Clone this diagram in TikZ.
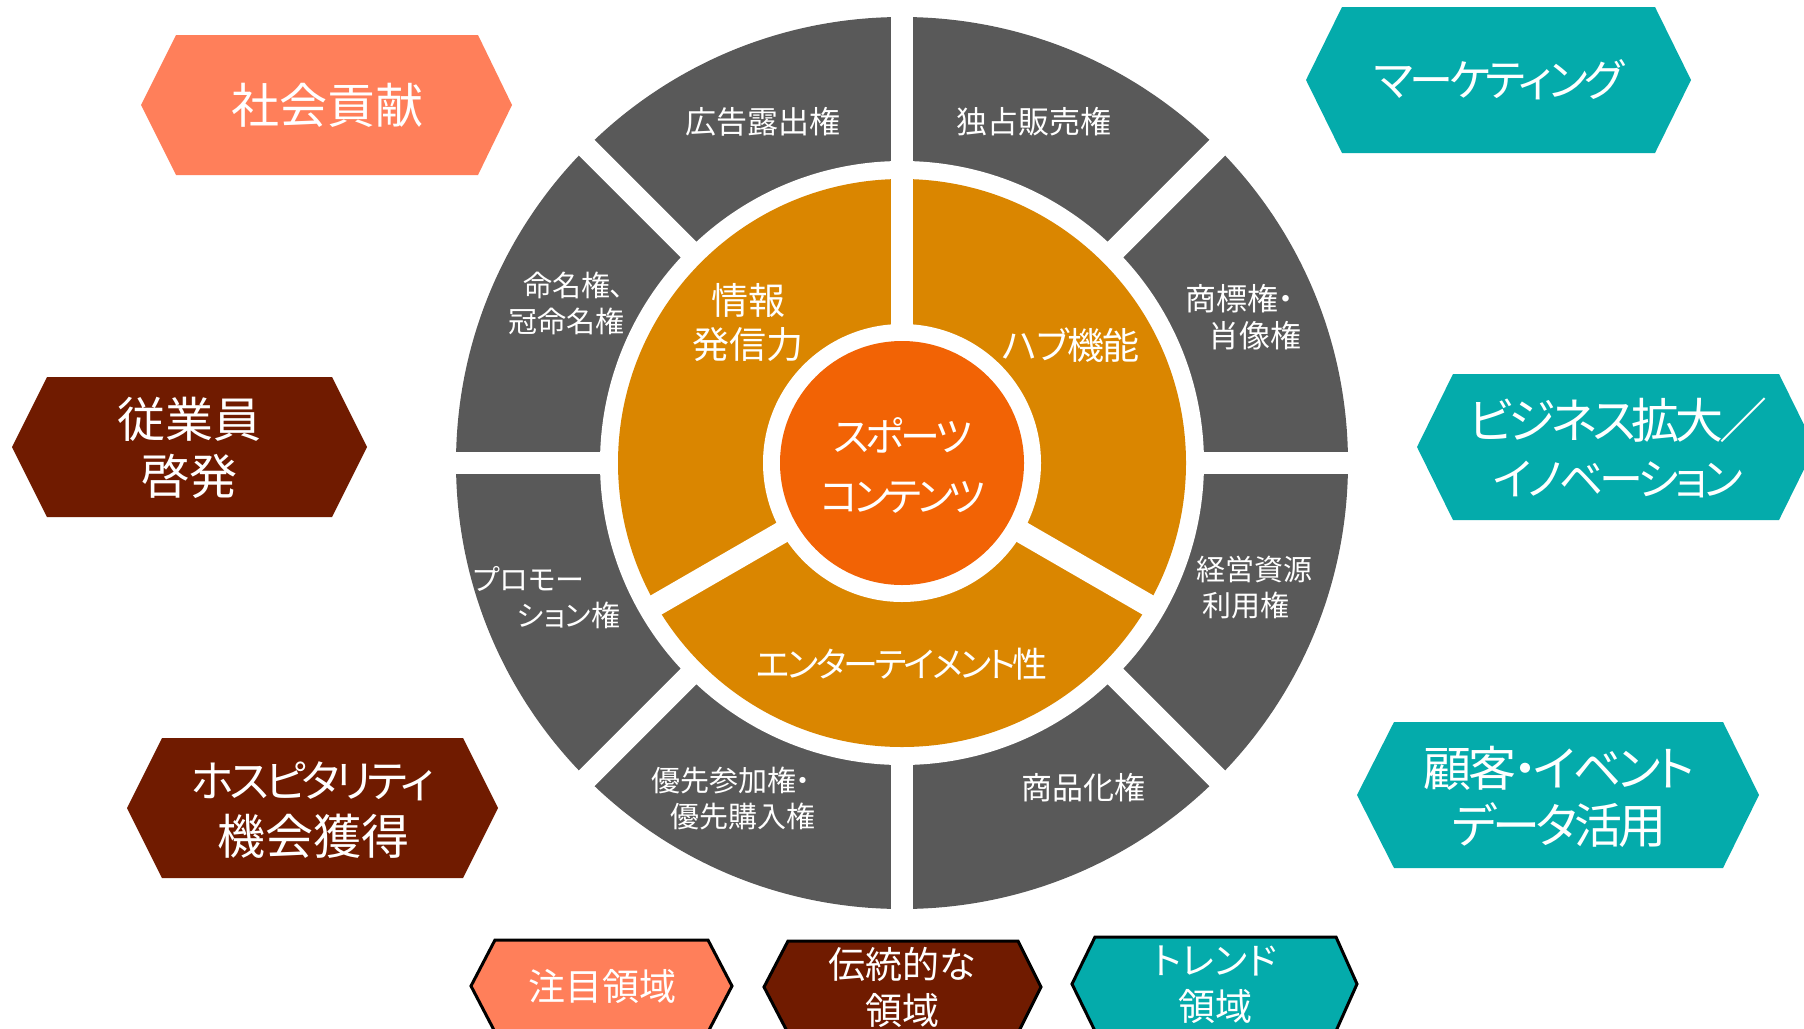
\documentclass[tikz,border=0pt]{standalone}
\usepackage{fontspec}
\setmainfont{Noto Sans CJK JP}[RawFeature={+palt}]
\newcommand\trk[2]{{\addfontfeature{LetterSpace=#1}#2}}
\newcommand\kn[4]{{\fontsize{#1}{#2}\selectfont\addfontfeature{LetterSpace=#3}#4}}
\definecolor{ringgray}{HTML}{595959}
\definecolor{ringorange}{HTML}{DA8600}
\definecolor{coreorange}{HTML}{F26305}
\definecolor{coral}{HTML}{FF7F5A}
\definecolor{darkred}{HTML}{701B00}
\definecolor{teal}{HTML}{04ABAB}
\begin{document}
\begin{tikzpicture}[x=1pt,y=-1pt,
  lbl/.style={text=white, align=center, inner sep=0pt},
  biglbl/.style={lbl, font=\fontsize{48}{57}\selectfont},
  ringlbl/.style={lbl, font=\fontsize{37}{44}\selectfont},
  graylbl/.style={lbl, font=\fontsize{31}{37}\selectfont},
  smallgray/.style={lbl, font=\fontsize{29}{36}\selectfont},
  corelbl/.style={lbl, font=\fontsize{40}{60}\selectfont},
  keylbl/.style={lbl, font=\fontsize{37}{46}\selectfont},
  keybox/.style={draw=black, line width=3pt},
  gap/.style={white, line width=22pt}]
\useasboundingbox (0,0) rectangle (1804,1028);
\clip (0,0) rectangle (1804,1028);
\fill[white] (0,0) rectangle (1804,1028);

% wheel
\coordinate (c) at (902,463);
\fill[ringgray] (c) circle[radius=446pt];
\fill[white] (c) circle[radius=302pt];
\fill[ringorange] (c) circle[radius=284pt];
\fill[white] (c) circle[radius=139pt];
\foreach \a in {0,45,...,315}
  \draw[gap, shift={(c)}] (\a:290pt) -- (\a:470pt);
\foreach \a in {90,210,330}
  \draw[gap, shift={(c)}] (\a:125pt) -- (\a:295pt);
\fill[coreorange] (c) circle[radius=122pt];

% core text
\node[corelbl] (core) at (903,465) {\trk{-9}{スポーツ}\\\trk{-11}{コンテンツ}};

% orange ring texts
\node[ringlbl] (info) at (748,323) {情報\\発信力};
\node[ringlbl] (hub) at (1071,345) {\trk{-4}{ハブ機能}};
\node[ringlbl] (ent) at (902,664) {\kn{35}{44}{-8}{エンターテイメント性}};

% gray ring texts
\node[graylbl] (ad) at (763,122) {広告露出権};
\node[graylbl] (excl) at (1034,122) {独占販売権};
\node[smallgray, anchor=west, align=left] (name) at (508,303) {\hspace*{15pt}命名権、\\冠命名権};
\node[graylbl, anchor=west, align=left] (tm) at (1185,317) {商標権・\\\hspace*{23pt}肖像権};
\node[smallgray, anchor=west, align=left] (res) at (1196,588) {経営資源\\\hspace*{6pt}利用権};
\node[graylbl] (merch) at (1083,788) {商品化権};
\node[smallgray, anchor=west, align=left] (prio) at (651,798) {優先参加権・\\\hspace*{19pt}優先購入権};
\node[smallgray, anchor=west, align=left] (promo) at (473,598) {プロモー\\\hspace*{44pt}ション権};

% left hexagons
\fill[coral] (141,105) -- (176,35) -- (478,35) -- (512,105) -- (478,175) -- (176,175) -- cycle;
\node[biglbl] (social) at (327,105) {社会貢献};
\fill[darkred] (12,447) -- (47,377) -- (332,377) -- (367,447) -- (332,517) -- (47,517) -- cycle;
\node[biglbl] (staff) at (189,448) {従業員\\啓発};
\fill[darkred] (127,808) -- (162,738) -- (463,738) -- (498,808) -- (463,878) -- (162,878) -- cycle;
\node[biglbl] (hosp) at (313,810) {\kn{44}{57}{-10}{ホスピタリティ}\\機会獲得};

% right hexagons
\fill[teal] (1306,80) -- (1342,7) -- (1655,7) -- (1691,80) -- (1655,153) -- (1342,153) -- cycle;
\node[biglbl] (mkt) at (1499,80) {\kn{44}{57}{-9}{マーケティング}};
\fill[teal] (1417,447) -- (1453,374) -- (1779,374) -- (1815,447) -- (1779,520) -- (1453,520) -- cycle;
\node[biglbl] (biz) at (1618,448) {\trk{-9}{ビジネス拡大／}\\\kn{44}{57}{-9}{イノベーション}};
\fill[teal] (1357,795) -- (1394,722) -- (1723,722) -- (1759,795) -- (1723,868) -- (1394,868) -- cycle;
\node[biglbl] (data) at (1559,797) {\trk{-7}{顧客・イベント}\\\trk{-8}{データ活用}};

% legend
\filldraw[keybox, fill=coral] (471,986) -- (495,940) -- (708,940) -- (732,986) -- (708,1032) -- (495,1032) -- cycle;
\node[keylbl] (k1) at (602,986) {注目領域};
\filldraw[keybox, fill=darkred] (764,987) -- (788,941) -- (1018,941) -- (1041,987) -- (1018,1033) -- (788,1033) -- cycle;
\node[keylbl] (k2) at (902,987) {伝統的な\\領域};
\filldraw[keybox, fill=teal] (1072,984) -- (1095,937) -- (1336,937) -- (1357,984) -- (1336,1031) -- (1095,1031) -- cycle;
\node[keylbl] (k3) at (1215,985) {トレンド\\領域};
\end{tikzpicture}
\end{document}
